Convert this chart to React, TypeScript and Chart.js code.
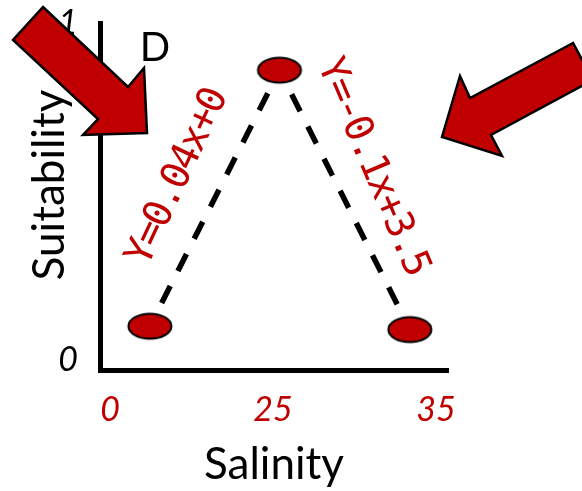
import { useEffect, useRef } from "react";
import { Chart, registerables } from "chart.js";

Chart.register(...registerables);

// Axis ticks: evenly spaced positions carrying the salinity labels
const xTickValues = [0, 1, 2];
const xTickLabels = ["0", "25", "35"];
const yTickValues = [0, 1];
const yTickLabels = ["0", "1"];

// Suitability points along the salinity axis
const pointX = [0.245, 1.04, 1.84];
const pointY = [0.1, 0.86, 0.09];

// Equations of the two line segments
const equationLabels = ["Y=0.04x+0", "Y=-0.1x+3.5"];
const equationX = [0.417, 1.607];
const equationY = [0.54, 0.573];
const equationAngle = [-65, 67];

const panelLetter = "D";
const xTitle = "Salinity";
const yTitle = "Suitability";

const RED = "#C00000";
const FONT = "Lato";

// Block arrows pointing at the chart
const arrows: number[][][] = [
  [
    [43, 7], [128, 87], [144, 68], [147, 133], [83, 135], [98, 119], [13, 40],
  ],
  [
    [573, 43], [470, 98], [460, 76], [442, 137], [502, 156], [491, 135], [593, 80],
  ],
];

function makeEllipse(): HTMLCanvasElement {
  const c = document.createElement("canvas");
  c.width = 48;
  c.height = 30;
  const g = c.getContext("2d")!;
  g.beginPath();
  g.ellipse(24, 15, 21.5, 12.5, 0, 0, Math.PI * 2);
  g.fillStyle = RED;
  g.fill();
  g.lineWidth = 2;
  g.strokeStyle = "#000";
  g.stroke();
  return c;
}

const overlay = {
  id: "overlay",
  afterDraw(chart: any) {
    const { ctx, chartArea, scales } = chart;
    const xs = scales.x;
    const ys = scales.y;
    ctx.save();

    // equation labels beside the segments
    ctx.fillStyle = RED;
    ctx.font = `39px 'DejaVu Sans Mono'`;
    (ctx as any).letterSpacing = "-2.5px";
    ctx.textAlign = "center";
    ctx.textBaseline = "middle";
    equationLabels.forEach((t, i) => {
      ctx.save();
      ctx.translate(xs.getPixelForValue(equationX[i]), ys.getPixelForValue(equationY[i]));
      ctx.rotate((equationAngle[i] * Math.PI) / 180);
      ctx.fillText(t, 0, 0);
      ctx.restore();
    });
    (ctx as any).letterSpacing = "0px";

    // panel letter
    ctx.fillStyle = "#000";
    ctx.font = `40px ${FONT}`;
    ctx.fillText(panelLetter, chartArea.left + 55, chartArea.top + 25);

    // vertical axis title
    ctx.save();
    ctx.translate(50, 185);
    ctx.rotate(-Math.PI / 2);
    ctx.font = `44px ${FONT}`;
    ctx.fillText(yTitle, 0, 0);
    ctx.restore();

    // arrows
    ctx.fillStyle = RED;
    ctx.strokeStyle = "#000";
    ctx.lineWidth = 2.5;
    ctx.lineJoin = "miter";
    for (const poly of arrows) {
      ctx.beginPath();
      poly.forEach(([x, y], i) => (i === 0 ? ctx.moveTo(x, y) : ctx.lineTo(x, y)));
      ctx.closePath();
      ctx.fill();
      ctx.stroke();
    }
    ctx.restore();
  },
};

export default function App() {
  const ref = useRef<HTMLCanvasElement>(null);

  useEffect(() => {
    if (!ref.current) return;
    const ellipse = makeEllipse();
    const chart = new Chart(ref.current, {
      type: "line",
      data: {
        datasets: [
          {
            data: pointX.map((x, i) => ({ x, y: pointY[i] })),
            borderColor: "#000",
            borderWidth: 5.5,
            borderDash: [19, 17],
            borderDashOffset: 10,
            borderCapStyle: "butt",
            tension: 0,
            pointStyle: ellipse as any,
            pointRadius: 10,
            pointHoverRadius: 10,
            fill: false,
          },
        ],
      },
      options: {
        responsive: false,
        animation: false,
        devicePixelRatio: 1,
        layout: { padding: { left: 0, top: 23, right: 134, bottom: 0 } },
        plugins: {
          legend: { display: false },
          tooltip: { enabled: false },
        },
        scales: {
          x: {
            type: "linear",
            min: -0.0613,
            max: 2.074,
            grid: { display: false, drawTicks: false },
            border: { display: true, color: "#000", width: 5 },
            afterBuildTicks: (s: any) => {
              s.ticks = xTickValues.map((value) => ({ value }));
            },
            afterFit: (s: any) => {
              s.height = 121;
              s.paddingLeft = 0;
              s.paddingRight = 0;
            },
            ticks: {
              autoSkip: false,
              maxRotation: 0,
              padding: 20,
              color: RED,
              font: { family: FONT, size: 34, style: "italic" },
              callback: (_v: any, i: number) => xTickLabels[i],
            },
            title: {
              display: true,
              text: xTitle,
              color: "#000",
              font: { family: FONT, size: 44 },
              padding: { top: 0, bottom: 0 },
            },
          },
          y: {
            type: "linear",
            min: -0.03,
            max: 1.0,
            grid: { display: false, drawTicks: false },
            border: { display: true, color: "#000", width: 5 },
            afterBuildTicks: (s: any) => {
              s.ticks = yTickValues.map((value) => ({ value }));
            },
            afterFit: (s: any) => {
              s.width = 100;
              s.paddingTop = 0;
              s.paddingBottom = 0;
            },
            ticks: {
              autoSkip: false,
              padding: 22,
              color: "#000",
              font: { family: FONT, size: 34, style: "italic" },
              callback: (_v: any, i: number) => yTickLabels[i],
            },
          },
        },
      },
      plugins: [overlay],
    });
    return () => chart.destroy();
  }, []);

  return (
    <div style={{ position: "fixed", left: 0, top: 0, width: 582, height: 491, background: "#fff" }}>
      <canvas ref={ref} width={582} height={491} />
    </div>
  );
}
